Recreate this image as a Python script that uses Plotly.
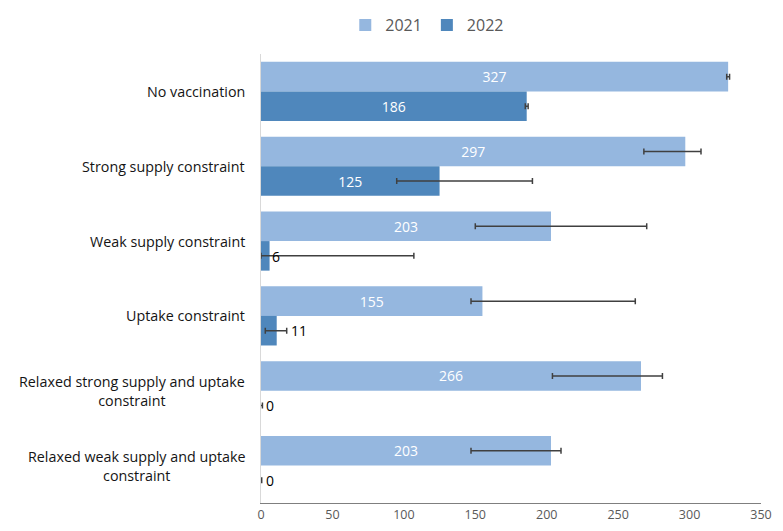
import plotly.graph_objects as go

categories = [
    "No vaccination",
    "Strong supply constraint",
    "Weak supply constraint",
    "Uptake constraint",
    "Relaxed strong supply and uptake<br>constraint",
    "Relaxed weak supply and uptake<br>constraint",
]
values_2021 = [327, 297, 203, 155, 266, 203]
values_2022 = [186, 125, 6, 11, 0, 0]
err_plus_2021 = [1, 11, 67, 107, 15, 7]
err_minus_2021 = [1, 29, 53, 8, 62, 56]
err_plus_2022 = [1, 65, 101, 7, 1, 0.5]
err_minus_2022 = [1, 30, 6, 8, 1, 0.5]
x_ticks = [0, 50, 100, 150, 200, 250, 300, 350]

c2021 = "#95B7DF"
c2022 = "#4F87BC"
FONT = "Open Sans"

fig = go.Figure()
series = [
    ("2021", values_2021, err_plus_2021, err_minus_2021, c2021),
    ("2022", values_2022, err_plus_2022, err_minus_2022, c2022),
]
for name, vals, ep, em, col in series:
    fig.add_trace(go.Bar(
        name=name, y=categories, x=vals, orientation="h",
        marker=dict(color=col, line=dict(width=0)),
        text=[str(v) if v >= 50 else "" for v in vals],
        textposition="inside",
        insidetextanchor="middle",
        insidetextfont=dict(color="white", size=14, family=FONT),
        cliponaxis=False,
        error_x=dict(type="data", symmetric=False, array=ep, arrayminus=em,
                     color="#404040", thickness=1.5, width=3),
    ))

# small-value labels placed just outside the bar (or after a short error bar)
for vals, ep, yshift in [(values_2021, err_plus_2021, 15),
                         (values_2022, err_plus_2022, -15)]:
    for cat, v, e in zip(categories, vals, ep):
        if v >= 50:
            continue
        anchor_x = v + e if e < 20 else v
        fig.add_annotation(
            x=anchor_x, xref="x", y=cat, yref="y", yshift=yshift,
            text=str(v), showarrow=False, xanchor="left",
            xshift=2 if e < 20 else 0,
            font=dict(family=FONT, size=14, color="black"),
        )

for cat in categories:
    fig.add_annotation(
        x=0, xref="paper", y=cat, yref="y", text=cat, showarrow=False,
        xanchor="right", xshift=-14, align="center",
        font=dict(family=FONT, size=14.3, color="#141414"),
    )

fig.update_layout(
    width=775, height=523,
    margin=dict(l=253, r=22, t=46, b=28, autoexpand=False),
    barmode="group", bargap=0.21, bargroupgap=0,
    plot_bgcolor="white", paper_bgcolor="white",
    font=dict(family=FONT, color="#595959"),
    showlegend=True,
    legend=dict(orientation="h", xref="container", yref="container",
                x=0.541, y=1.0, xanchor="center", yanchor="top",
                font=dict(size=16, color="#595959"),
                itemwidth=30, tracegroupgap=0),
    xaxis=dict(range=[0, 350], tickvals=x_ticks, showgrid=False,
               zeroline=False, showline=True, linecolor="#7f7f7f",
               linewidth=1.2, ticks="", automargin=False,
               tickfont=dict(size=12.5, color="#595959")),
    yaxis=dict(autorange="reversed", showticklabels=False, showgrid=False,
               zeroline=False, showline=True, linecolor="#d9d9d9", linewidth=1,
               ticks="", automargin=False),
)

fig.write_html("out.html")
